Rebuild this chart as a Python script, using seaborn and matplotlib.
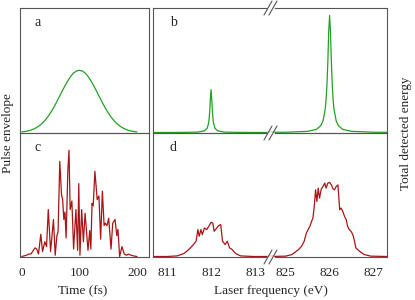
import matplotlib.pyplot as plt
from matplotlib.lines import Line2D
import seaborn as sns

# estilo general
sns.set_style("white")
plt.rcParams["font.family"] = ["Liberation Serif", "DejaVu Serif"]
plt.rcParams["font.size"] = 9

GREEN = "#22a022"
RED = "#aa1414"
SPINE = "#555555"

# --- datos ---
# a: envolvente del pulso (fs)
time_a = list(range(0, 205, 5))
env_a = [0.005, 0.008, 0.012, 0.018, 0.026, 0.038, 0.053, 0.072, 0.096, 0.125,
         0.159, 0.197, 0.240, 0.285, 0.331, 0.375, 0.416, 0.451, 0.478, 0.494,
         0.500,
         0.494, 0.478, 0.451, 0.416, 0.375, 0.331, 0.285, 0.240, 0.197, 0.159,
         0.125, 0.096, 0.072, 0.053, 0.038, 0.026, 0.018, 0.012, 0.008, 0.005]

# c: pulso ruidoso (fs)
time_c = [0, 4, 8, 12, 16, 20, 23, 26, 29, 33, 36, 40, 43, 46, 50, 55, 58, 61,
          63, 66, 69, 71, 73, 75, 77, 80, 82, 84, 87, 90, 94, 97, 99, 101, 104,
          107, 110, 115, 118, 120, 122, 124, 127, 131, 134, 137, 140, 143, 145,
          148, 151, 155, 158, 162, 165, 167, 170, 174, 178, 182, 185, 190, 194,
          200]
env_c = [0.0, 0.005, 0.01, 0.02, 0.02, 0.05, 0.07, 0.06, 0.02, 0.18, 0.04, 0.12,
         0.08, 0.38, 0.04, 0.30, 0.01, 0.17, 0.20, 0.77, 0.50, 0.46, 0.30, 0.36,
         0.15, 0.70, 0.86, 0.38, 0.45, 0.06, 0.38, 0.05, 0.59, 0.01, 0.38, 0.12,
         0.35, 0.05, 0.21, 0.06, 0.43, 0.41, 0.69, 0.46, 0.49, 0.14, 0.53, 0.25,
         0.27, 0.25, 0.31, 0.06, 0.27, 0.30, 0.17, 0.22, 0.0, 0.08, 0.02, 0.01,
         0.02, 0.01, 0.005, 0.0]

# b: energia detectada, pulso suave (eV)
freq_b1 = [810.68, 811.4, 811.7, 811.85, 811.91, 811.94, 811.955, 811.97,
           811.985, 812.0, 812.015, 812.03, 812.045, 812.06, 812.09, 812.15,
           812.3, 812.6, 813.34]
energy_b1 = [0.0, 0.0009, 0.0034, 0.0132, 0.034, 0.069, 0.106, 0.172, 0.275,
             0.344, 0.275, 0.172, 0.106, 0.069, 0.034, 0.0132, 0.0034, 0.0009,
             0.0001]
freq_b2 = [824.64, 825.0, 825.5, 825.7, 825.8, 825.85, 825.9, 825.92, 825.94,
           825.96, 825.98, 826.0, 826.02, 826.04, 826.06, 826.08, 826.1, 826.15,
           826.2, 826.3, 826.5, 827.0, 827.31]
energy_b2 = [0.0013, 0.0023, 0.0093, 0.025, 0.055, 0.094, 0.188, 0.264, 0.385,
             0.57, 0.81, 0.94, 0.81, 0.57, 0.385, 0.264, 0.188, 0.094, 0.055,
             0.025, 0.0093, 0.0023, 0.0014]

# d: energia detectada, pulso ruidoso (eV)
freq_d1 = [810.68, 811.0, 811.23, 811.38, 811.45, 811.53, 811.6, 811.66, 811.7,
           811.73, 811.77, 811.8, 811.85, 811.9, 811.95, 812.0, 812.04, 812.07,
           812.13, 812.17, 812.22, 812.26, 812.32, 812.37, 812.42, 812.48,
           812.56, 812.67, 812.96, 813.34]
energy_d1 = [0.0, 0.0, 0.005, 0.024, 0.043, 0.07, 0.097, 0.124, 0.218, 0.164,
             0.218, 0.177, 0.231, 0.218, 0.245, 0.277, 0.27, 0.204, 0.231, 0.25,
             0.258, 0.124, 0.097, 0.124, 0.07, 0.056, 0.024, 0.005, 0.0, 0.0]
freq_d2 = [824.64, 825.0, 825.14, 825.29, 825.36, 825.42, 825.47, 825.51, 825.55,
           825.59, 825.62, 825.65, 825.68, 825.71, 825.74, 825.77, 825.81,
           825.85, 825.89, 825.92, 825.96, 826.0, 826.04, 826.08, 826.11, 826.15,
           826.19, 826.23, 826.26, 826.3, 826.34, 826.38, 826.41, 826.45, 826.49,
           826.53, 826.56, 826.6, 826.68, 826.79, 826.94, 827.31]
energy_d2 = [0.0, 0.003, 0.016, 0.056, 0.083, 0.124, 0.19, 0.218, 0.245, 0.285,
             0.312, 0.406, 0.54, 0.446, 0.554, 0.473, 0.546, 0.567, 0.594, 0.554,
             0.594, 0.6, 0.58, 0.546, 0.54, 0.567, 0.58, 0.379, 0.392, 0.366,
             0.325, 0.298, 0.245, 0.218, 0.204, 0.177, 0.137, 0.07, 0.043, 0.016,
             0.003, 0.0]

time_ticks = [0, 100, 200]
freq_ticks_low = [811, 812, 813]
freq_ticks_high = [825, 826, 827]

# --- figura ---
W, H = 415, 300
fig = plt.figure(figsize=(W / 100, H / 100), dpi=100)


def box(x0, y0, x1, y1):
    return fig.add_axes([x0 / W, 1 - y1 / H, (x1 - x0) / W, (y1 - y0) / H])


ax_a = box(19.5, 8, 149, 133)
ax_c = box(19.5, 133, 149, 257)
ax_b1 = box(153, 8, 270, 133)
ax_b2 = box(270, 8, 387, 133)
ax_d1 = box(153, 133, 270, 257)
ax_d2 = box(270, 133, 387, 257)

sns.lineplot(x=time_a, y=env_a, ax=ax_a, color=GREEN, lw=0.9)
sns.lineplot(x=time_c, y=env_c, ax=ax_c, color=RED, lw=0.9)
sns.lineplot(x=freq_b1, y=energy_b1, ax=ax_b1, color=GREEN, lw=0.9)
sns.lineplot(x=freq_b2, y=energy_b2, ax=ax_b2, color=GREEN, lw=0.9)
sns.lineplot(x=freq_d1, y=energy_d1, ax=ax_d1, color=RED, lw=0.9)
sns.lineplot(x=freq_d2, y=energy_d2, ax=ax_d2, color=RED, lw=0.9)

for ax in [ax_a, ax_c]:
    ax.set_xlim(-4, 221)
    ax.set_xticks(time_ticks)
for ax in [ax_b1, ax_d1]:
    ax.set_xlim(810.68, 813.34)
    ax.set_xticks(freq_ticks_low)
    ax.spines["right"].set_visible(False)
for ax in [ax_b2, ax_d2]:
    ax.set_xlim(824.64, 827.31)
    ax.set_xticks(freq_ticks_high)
    ax.spines["left"].set_visible(False)

for ax in [ax_a, ax_c, ax_b1, ax_b2, ax_d1, ax_d2]:
    ax.set_ylim(-0.004, 1.0)
    ax.set_yticks([])
    ax.set_ylabel("")
    ax.set_xlabel("")
    for sp in ax.spines.values():
        sp.set_color(SPINE)
        sp.set_linewidth(0.8)
    ax.tick_params(axis="x", direction="in", length=3, width=0.8,
                   color=SPINE, pad=7.5, labelsize=9.5)
    ax.set_facecolor("none")

for ax in [ax_a, ax_b1, ax_b2]:
    ax.tick_params(axis="x", labelbottom=False)

# letras de los paneles
ax_a.text(0.143, 0.88, "a", transform=ax_a.transAxes, ha="center", va="center", fontsize=10)
ax_b1.text(0.171, 0.88, "b", transform=ax_b1.transAxes, ha="center", va="center", fontsize=10)
ax_c.text(0.143, 0.88, "c", transform=ax_c.transAxes, ha="center", va="center", fontsize=10)
ax_d1.text(0.171, 0.88, "d", transform=ax_d1.transAxes, ha="center", va="center", fontsize=10)

# etiquetas de ejes
fig.text(8 / W, 1 - 133 / H, "Pulse envelope", rotation=90, ha="center", va="center", fontsize=9.5)
fig.text(406 / W, 1 - 133 / H, "Total detected energy", rotation=90, ha="center", va="center", fontsize=9.5)
fig.text(83 / W, 1 - 291 / H, "Time (fs)", ha="center", va="center", fontsize=9.5)
fig.text(271 / W, 1 - 291 / H, "Laser frequency (eV)", ha="center", va="center", fontsize=9.5)


# marcas de corte del eje
def cut_mark(ypx, xpx=270.5):
    fig.add_artist(Line2D([(xpx - 2.5) / W, (xpx + 2.5) / W], [1 - ypx / H] * 2,
                          color="white", lw=2.0, zorder=10))
    for dx in (-2.5, 2.5):
        fig.add_artist(Line2D([(xpx + dx - 4) / W, (xpx + dx + 4) / W],
                              [1 - (ypx + 7) / H, 1 - (ypx - 7) / H],
                              color=SPINE, lw=0.8, zorder=11))


for y in (8, 133, 257):
    cut_mark(y)

fig.savefig("out.png", dpi=100)
